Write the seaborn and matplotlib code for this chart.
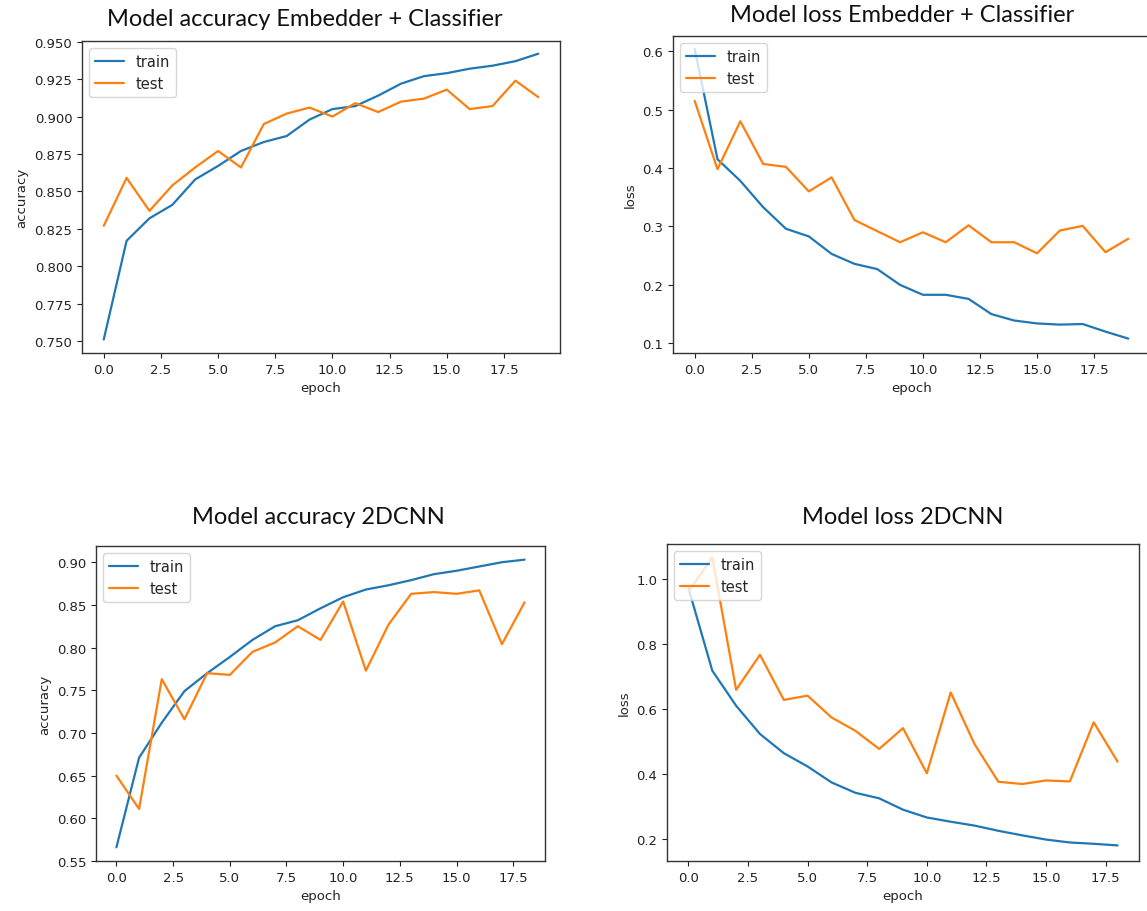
import numpy as np
import pandas as pd
import matplotlib
matplotlib.use("Agg")
import matplotlib.pyplot as plt
import seaborn as sns

# training history
epochs_emb = list(range(20))
acc_train_emb = [0.751, 0.817, 0.832, 0.841, 0.858, 0.867, 0.877, 0.883, 0.887, 0.898,
                 0.905, 0.907, 0.914, 0.922, 0.927, 0.929, 0.932, 0.934, 0.937, 0.942]
acc_test_emb = [0.827, 0.859, 0.837, 0.854, 0.866, 0.877, 0.866, 0.895, 0.902, 0.906,
                0.900, 0.909, 0.903, 0.910, 0.912, 0.918, 0.905, 0.907, 0.924, 0.913]
loss_train_emb = [0.604, 0.415, 0.378, 0.333, 0.296, 0.283, 0.253, 0.236, 0.227, 0.200,
                  0.183, 0.183, 0.176, 0.150, 0.139, 0.134, 0.132, 0.133, 0.120, 0.108]
loss_test_emb = [0.515, 0.398, 0.480, 0.407, 0.402, 0.360, 0.384, 0.311, 0.292, 0.273,
                 0.290, 0.273, 0.302, 0.273, 0.273, 0.254, 0.293, 0.301, 0.256, 0.279]

epochs_cnn = list(range(19))
acc_train_cnn = [0.566, 0.671, 0.712, 0.749, 0.770, 0.789, 0.809, 0.825, 0.832, 0.846,
                 0.859, 0.868, 0.873, 0.879, 0.886, 0.890, 0.895, 0.900, 0.903]
acc_test_cnn = [0.650, 0.611, 0.763, 0.716, 0.770, 0.768, 0.795, 0.806, 0.825, 0.809,
                0.854, 0.773, 0.827, 0.863, 0.865, 0.863, 0.867, 0.804, 0.853]
loss_train_cnn = [0.972, 0.718, 0.610, 0.523, 0.464, 0.423, 0.374, 0.342, 0.325, 0.290,
                  0.266, 0.253, 0.241, 0.225, 0.211, 0.198, 0.189, 0.185, 0.180]
loss_test_cnn = [0.961, 1.067, 0.659, 0.767, 0.628, 0.641, 0.574, 0.533, 0.477, 0.541,
                 0.402, 0.651, 0.492, 0.376, 0.369, 0.380, 0.377, 0.559, 0.438]

titles = ["Model accuracy Embedder + Classifier", "Model loss Embedder + Classifier",
          "Model accuracy 2DCNN", "Model loss 2DCNN"]

sns.set_style("ticks")
plt.rcParams["font.family"] = ["DejaVu Sans"]
plt.rcParams["axes.edgecolor"] = "#333333"
plt.rcParams["axes.linewidth"] = 1.0

W, H = 1147, 912
fig = plt.figure(figsize=(W / 100, H / 100), dpi=100)


def px_axes(left, top, right, bottom):
    return fig.add_axes([left / W, 1 - bottom / H, (right - left) / W, (bottom - top) / H])


panels = [
    (px_axes(82, 42, 560, 354), epochs_emb, acc_train_emb, acc_test_emb, "accuracy", (0.742, 0.9505)),
    (px_axes(673, 37, 1150, 354), epochs_emb, loss_train_emb, loss_test_emb, "loss", (0.0834, 0.626)),
    (px_axes(96, 547, 545, 862), epochs_cnn, acc_train_cnn, acc_test_cnn, "accuracy", (0.55, 0.919)),
    (px_axes(667, 545, 1139, 862), epochs_cnn, loss_train_cnn, loss_test_cnn, "loss", (0.132, 1.108)),
]

for ax, ep, tr, te, ylab, ylim in panels:
    df = pd.DataFrame({"epoch": ep, "train": tr, "test": te})
    sns.lineplot(data=df, x="epoch", y="train", ax=ax, color="#1f77b4", linewidth=1.6, label="train")
    sns.lineplot(data=df, x="epoch", y="test", ax=ax, color="#ff7f0e", linewidth=1.6, label="test")
    ax.set_ylim(*ylim)
    ax.set_xlim(-0.05 * (len(ep) - 1), (len(ep) - 1) * 1.05)
    ax.set_xticks(np.arange(0, len(ep), 2.5))
    ax.set_xticklabels([f"{v:.1f}" for v in np.arange(0, len(ep), 2.5)])
    ax.set_xlabel("epoch", fontsize=9.5, color="#222222")
    ax.set_ylabel(ylab, fontsize=9.5, color="#222222")
    ax.tick_params(labelsize=9.5, colors="#222222", length=3.5)
    for s in ax.spines.values():
        s.set_visible(True)
    ax.legend(loc="upper left", fontsize=10.5, frameon=True, fancybox=True)

yt = [0.75, 0.775, 0.8, 0.825, 0.85, 0.875, 0.9, 0.925, 0.95]
panels[0][0].set_yticks(yt)
panels[0][0].set_yticklabels([f"{v:.3f}" for v in yt])

title_pos = [(305, 19), (902, 15), (318, 518), (903, 518)]
for t, (x, y) in zip(titles, title_pos):
    fig.text(x / W, 1 - y / H, t, ha="center", va="center", fontsize=17,
             family=["Lato", "DejaVu Sans"], color="#111111")

fig.savefig("out.png", dpi=100)
